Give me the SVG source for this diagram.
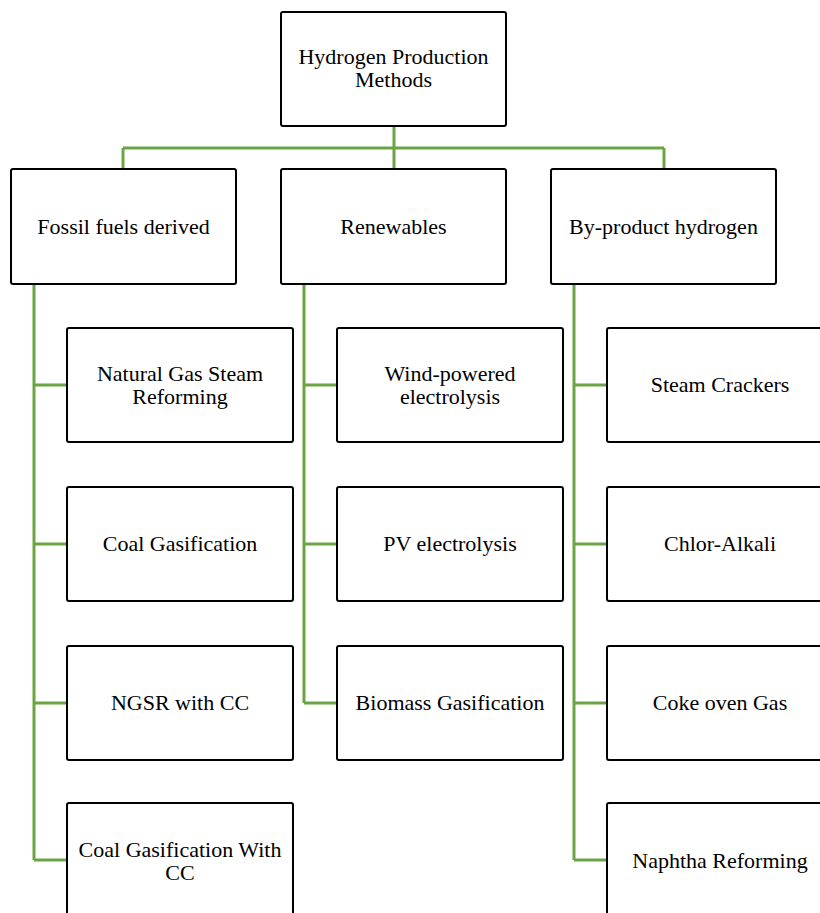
<svg xmlns="http://www.w3.org/2000/svg" width="820" height="913" viewBox="0 0 820 913">
  <style>
    .box { fill: #ffffff; stroke: #000000; stroke-width: 2; }
    .lbl { font-family: "Liberation Serif", "Times New Roman", serif; font-size: 22px; fill: #000000; text-anchor: middle; }
    .link { fill: none; stroke: #6aa443; stroke-width: 3; }
  </style>
  <rect width="820" height="913" fill="#ffffff"/>

  <!-- connectors -->
  <g id="connectors">
    <path class="link" d="M394 127 V148 M123 148 H664 M123 148 V169 M394 148 V169 M664 148 V169"/>
    <path class="link" d="M34 285 V860 M34 385 H67 M34 544 H67 M34 703 H67 M34 860 H67"/>
    <path class="link" d="M304 285 V703 M304 385 H337 M304 544 H337 M304 703 H337"/>
    <path class="link" d="M574 285 V860 M574 385 H607 M574 544 H607 M574 703 H607 M574 860 H607"/>
  </g>

  <!-- root -->
  <g id="root">
    <rect class="box" x="281" y="12" width="225" height="114" rx="2"/>
    <text class="lbl" x="393.5" y="64">Hydrogen Production</text>
    <text class="lbl" x="393.5" y="87">Methods</text>
  </g>

  <!-- categories -->
  <g id="fossil">
    <rect class="box" x="11" y="169" width="225" height="115" rx="2"/>
    <text class="lbl" x="123.5" y="234">Fossil fuels derived</text>
  </g>
  <g id="renewables">
    <rect class="box" x="281" y="169" width="225" height="115" rx="2"/>
    <text class="lbl" x="393.5" y="234">Renewables</text>
  </g>
  <g id="byproduct">
    <rect class="box" x="551" y="169" width="225" height="115" rx="2"/>
    <text class="lbl" x="663.5" y="234">By-product hydrogen</text>
  </g>

  <!-- fossil methods -->
  <g id="ngsr">
    <rect class="box" x="67" y="328" width="226" height="114" rx="2"/>
    <text class="lbl" x="180" y="381">Natural Gas Steam</text>
    <text class="lbl" x="180" y="404">Reforming</text>
  </g>
  <g id="coal-gas">
    <rect class="box" x="67" y="487" width="226" height="114" rx="2"/>
    <text class="lbl" x="180" y="551">Coal Gasification</text>
  </g>
  <g id="ngsr-cc">
    <rect class="box" x="67" y="646" width="226" height="114" rx="2"/>
    <text class="lbl" x="180" y="710">NGSR with CC</text>
  </g>
  <g id="coal-gas-cc">
    <rect class="box" x="67" y="803" width="226" height="114" rx="2"/>
    <text class="lbl" x="180" y="857">Coal Gasification With</text>
    <text class="lbl" x="180" y="880">CC</text>
  </g>

  <!-- renewable methods -->
  <g id="wind">
    <rect class="box" x="337" y="328" width="226" height="114" rx="2"/>
    <text class="lbl" x="450" y="381">Wind-powered</text>
    <text class="lbl" x="450" y="404">electrolysis</text>
  </g>
  <g id="pv">
    <rect class="box" x="337" y="487" width="226" height="114" rx="2"/>
    <text class="lbl" x="450" y="551">PV electrolysis</text>
  </g>
  <g id="biomass">
    <rect class="box" x="337" y="646" width="226" height="114" rx="2"/>
    <text class="lbl" x="450" y="710">Biomass Gasification</text>
  </g>

  <!-- by-product sources -->
  <g id="steam-crackers">
    <rect class="box" x="607" y="328" width="226" height="114" rx="2"/>
    <text class="lbl" x="720" y="392">Steam Crackers</text>
  </g>
  <g id="chlor-alkali">
    <rect class="box" x="607" y="487" width="226" height="114" rx="2"/>
    <text class="lbl" x="720" y="551">Chlor-Alkali</text>
  </g>
  <g id="coke-oven">
    <rect class="box" x="607" y="646" width="226" height="114" rx="2"/>
    <text class="lbl" x="720" y="710">Coke oven Gas</text>
  </g>
  <g id="naphtha">
    <rect class="box" x="607" y="803" width="226" height="114" rx="2"/>
    <text class="lbl" x="720" y="868">Naphtha Reforming</text>
  </g>
</svg>
